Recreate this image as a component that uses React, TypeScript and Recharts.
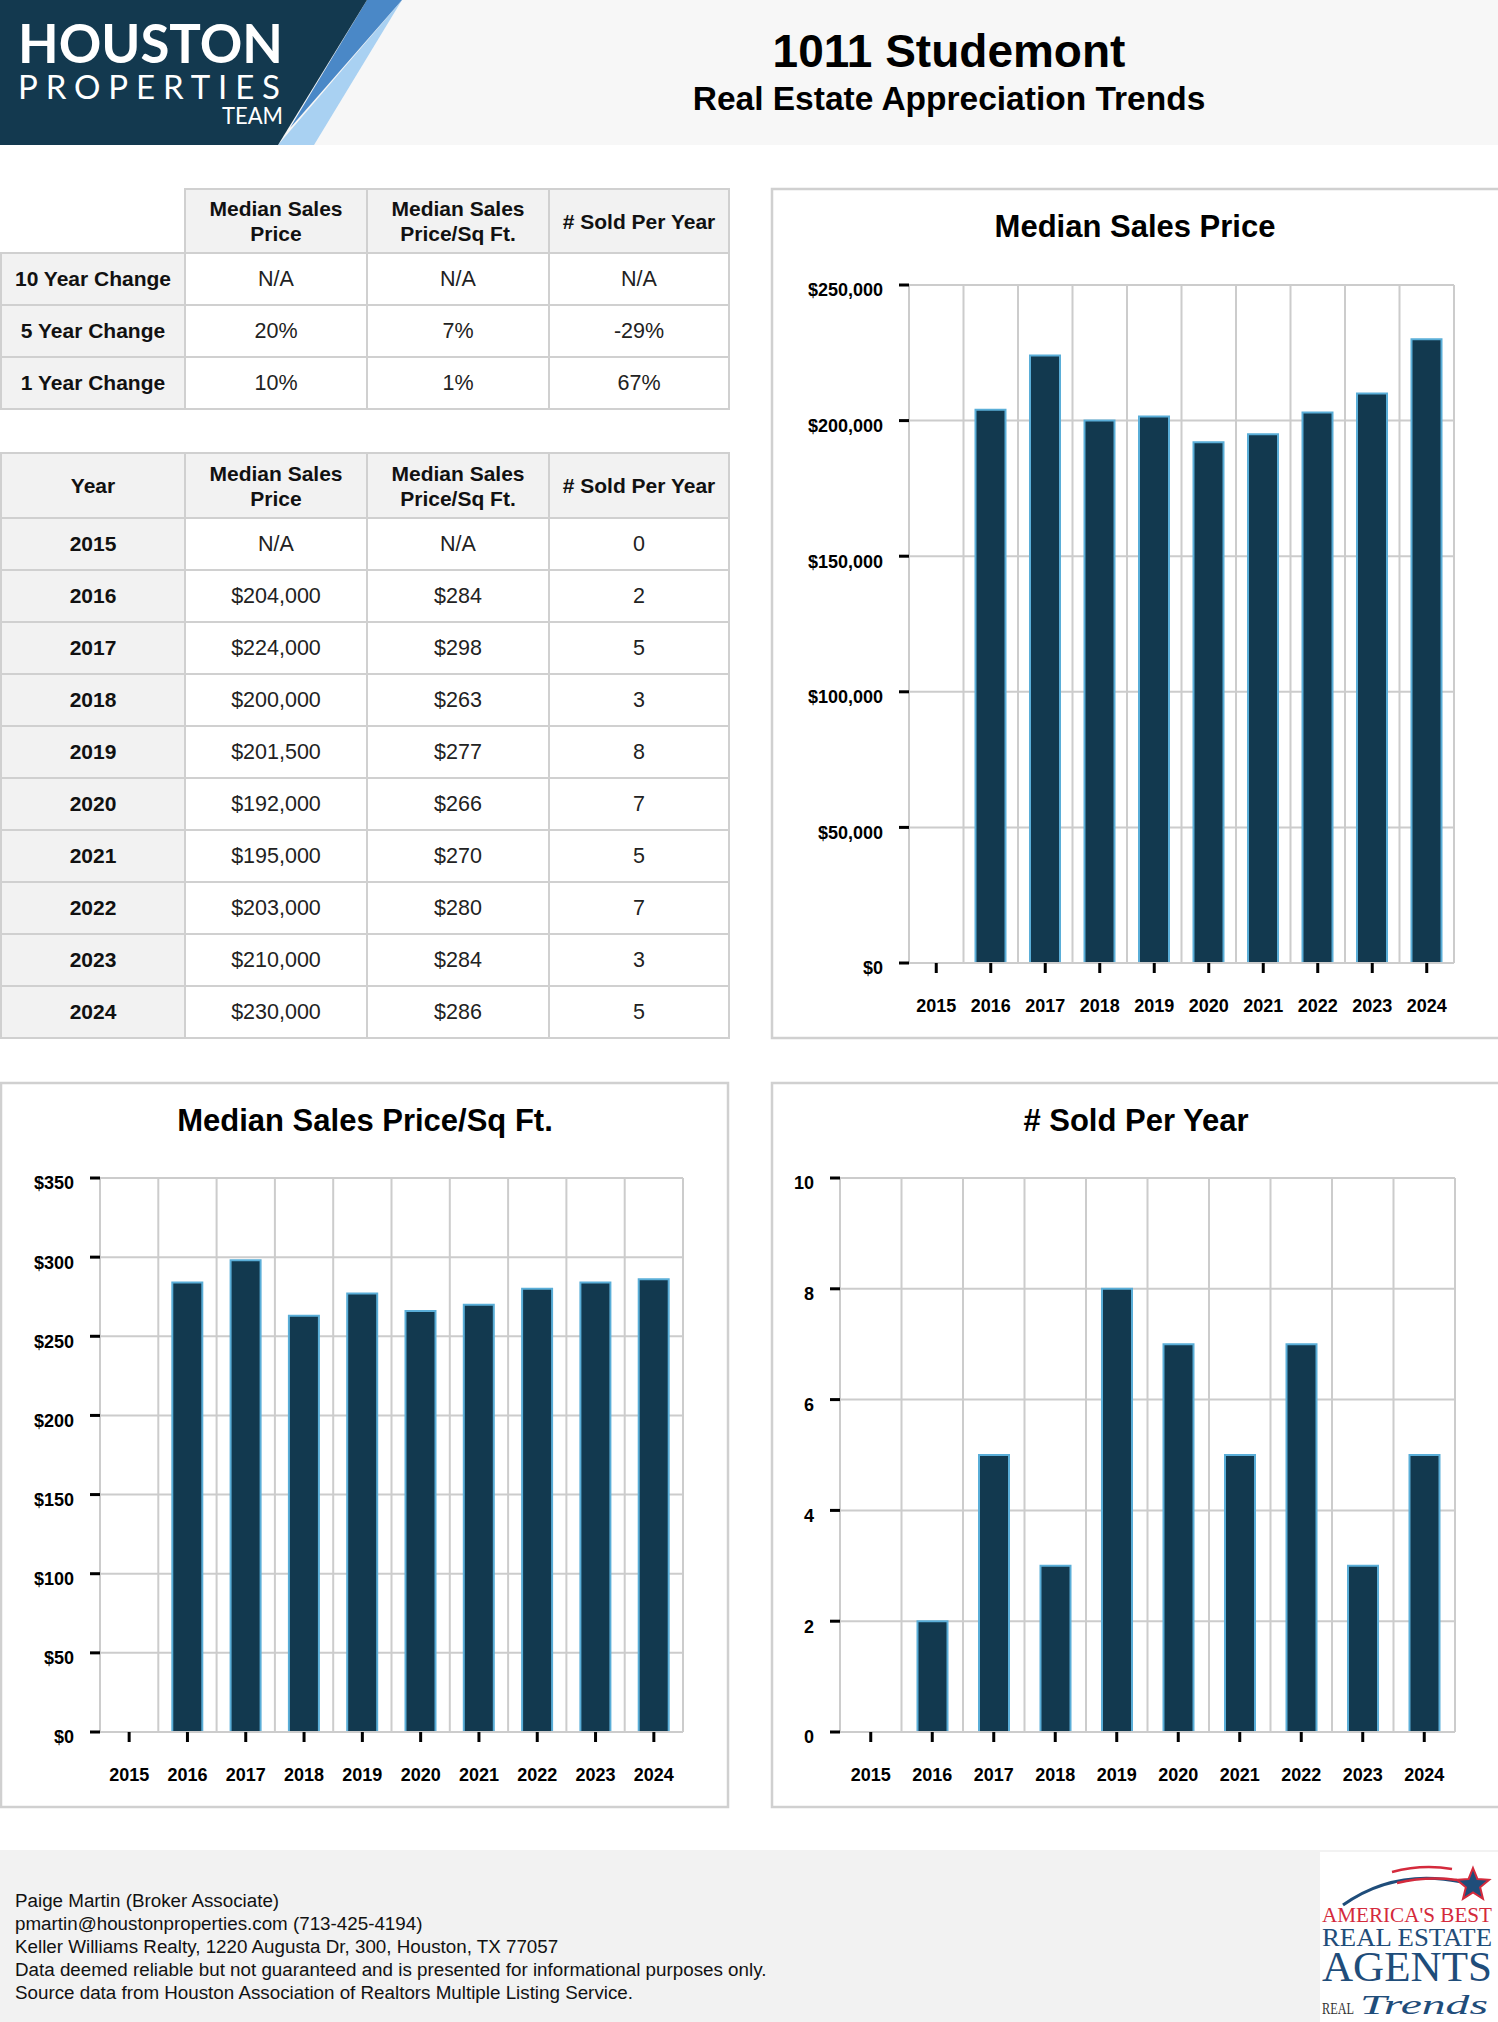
import React from 'react'
import { BarChart, Bar, XAxis, YAxis, CartesianGrid } from 'recharts'

const years = ['2015', '2016', '2017', '2018', '2019', '2020', '2021', '2022', '2023', '2024']
const medianPrice: (number | null)[] = [null, 204000, 224000, 200000, 201500, 192000, 195000, 203000, 210000, 230000]
const pricePerSqFt: (number | null)[] = [null, 284, 298, 263, 277, 266, 270, 280, 284, 286]
const soldPerYear: (number | null)[] = [0, 2, 5, 3, 8, 7, 5, 7, 3, 5]

const priceTicks = [0, 50000, 100000, 150000, 200000, 250000]
const sqFtTicks = [0, 50, 100, 150, 200, 250, 300, 350]
const soldTicks = [0, 2, 4, 6, 8, 10]

const changeLabels = ['10 Year Change', '5 Year Change', '1 Year Change']
const changePrice = ['N/A', '20%', '10%']
const changeSqFt = ['N/A', '7%', '1%']
const changeSold = ['N/A', '-29%', '67%']

const footerLines = [
  'Paige Martin (Broker Associate)',
  'pmartin@houstonproperties.com (713-425-4194)',
  'Keller Williams Realty, 1220 Augusta Dr, 300, Houston, TX 77057',
  'Data deemed reliable but not guaranteed and is presented for informational purposes only.',
  'Source data from Houston Association of Realtors Multiple Listing Service.',
]

const FONT = '"Liberation Sans", Arial, Helvetica, sans-serif'
const SERIF = "'Liberation Serif', 'DejaVu Serif', serif"
const LOGO_FONT = "Lato, 'Open Sans', sans-serif"
const NAVY = '#12394f'
const BAR_EDGE = '#5aaed8'
const GRID = '#cccccc'
const CELL_BG = '#f2f2f2'

const money = (v: number | null) => (v == null ? 'N/A' : '$' + v.toLocaleString('en-US'))
const plain = (v: number | null) => (v == null ? 'N/A' : String(v))

type PanelProps = {
  values: (number | null)[]
  ticks: number[]
  format: (v: number) => string
  x: number
  y: number
  w: number
  h: number
  axisWidth: number
  top: number
  right: number
}

function BarPanel({ values, ticks, format, x, y, w, h, axisWidth, top, right }: PanelProps) {
  const data = years.map((year, i) => ({ year, value: values[i] }))
  const tickFont = { fill: '#000', fontSize: 18, fontWeight: 700, fontFamily: FONT }
  return (
    <div style={{ position: 'absolute', left: x, top: y }}>
      <BarChart width={w} height={h} data={data} margin={{ top, right, bottom: 15, left: 0 }} barSize={30}>
        <CartesianGrid
          stroke={GRID}
          strokeWidth={2}
          verticalCoordinatesGenerator={({ offset }: any) =>
            years.concat('').map((_, i) => offset.left + (i * offset.width) / years.length)
          }
        />
        <XAxis
          dataKey="year"
          interval={0}
          height={60}
          axisLine={{ stroke: GRID, strokeWidth: 2 }}
          tickLine={{ stroke: '#000', strokeWidth: 3 }}
          tickSize={10}
          tickMargin={26}
          tick={tickFont}
        />
        <YAxis
          width={axisWidth}
          domain={[0, ticks[ticks.length - 1]]}
          ticks={ticks}
          interval={0}
          tickFormatter={format}
          axisLine={{ stroke: GRID, strokeWidth: 2 }}
          tickLine={{ stroke: '#000', strokeWidth: 3 }}
          tickSize={10}
          tickMargin={16}
          tick={{ ...tickFont, dy: 5 }}
        />
        <Bar dataKey="value" fill={NAVY} stroke={BAR_EDGE} strokeWidth={2} isAnimationActive={false} />
      </BarChart>
    </div>
  )
}

const cell: React.CSSProperties = {
  border: `2px solid #d0d0d0`,
  textAlign: 'center',
  verticalAlign: 'middle',
  padding: 0,
  fontSize: 21.5,
  color: '#222',
}
const headCell: React.CSSProperties = { ...cell, fontSize: 21, background: CELL_BG, fontWeight: 700, color: '#111', lineHeight: '25px' }
const labelCell: React.CSSProperties = { ...cell, fontSize: 21, background: CELL_BG, fontWeight: 700, color: '#111' }

const colWidths = [184, 182, 182, 180]

function Cols() {
  return (
    <colgroup>
      {colWidths.map((w, i) => (
        <col key={i} style={{ width: w }} />
      ))}
    </colgroup>
  )
}

function HeaderCells() {
  return (
    <>
      <td style={headCell}>Median Sales<br />Price</td>
      <td style={headCell}>Median Sales<br />Price/Sq Ft.</td>
      <td style={headCell}># Sold Per Year</td>
    </>
  )
}

const tableStyle: React.CSSProperties = {
  position: 'absolute',
  left: 0,
  width: 728,
  borderCollapse: 'collapse',
  tableLayout: 'fixed',
  fontFamily: FONT,
}

function ChangeTable() {
  return (
    <table style={{ ...tableStyle, top: 188 }}>
      <Cols />
      <tbody>
        <tr style={{ height: 64 }}>
          <td style={{ ...cell, border: 'none' }}></td>
          <HeaderCells />
        </tr>
        {changeLabels.map((label, i) => (
          <tr key={label} style={{ height: 52 }}>
            <td style={labelCell}>{label}</td>
            <td style={cell}>{changePrice[i]}</td>
            <td style={cell}>{changeSqFt[i]}</td>
            <td style={cell}>{changeSold[i]}</td>
          </tr>
        ))}
      </tbody>
    </table>
  )
}

function YearTable() {
  return (
    <table style={{ ...tableStyle, top: 452 }}>
      <Cols />
      <tbody>
        <tr style={{ height: 65 }}>
          <td style={headCell}>Year</td>
          <HeaderCells />
        </tr>
        {years.map((year, i) => (
          <tr key={year} style={{ height: 52 }}>
            <td style={labelCell}>{year}</td>
            <td style={cell}>{money(medianPrice[i])}</td>
            <td style={cell}>{money(pricePerSqFt[i])}</td>
            <td style={cell}>{plain(soldPerYear[i])}</td>
          </tr>
        ))}
      </tbody>
    </table>
  )
}

function starPoints(cx: number, cy: number, ro: number, ri: number) {
  const pts: string[] = []
  for (let i = 0; i < 10; i++) {
    const r = i % 2 === 0 ? ro : ri
    const a = -Math.PI / 2 + (i * Math.PI) / 5
    pts.push(`${cx + r * Math.cos(a)},${cy + r * Math.sin(a)}`)
  }
  return pts.join(' ')
}

function PageArt() {
  return (
    <svg width={1498} height={2022} style={{ position: 'absolute', left: 0, top: 0 }} fontFamily={FONT}>
      <defs>
        <linearGradient id="rule" x1="0" x2="1" y1="0" y2="0">
          <stop offset="0" stopColor="#ffffff" stopOpacity="0" />
          <stop offset="1" stopColor="#ffffff" stopOpacity="1" />
        </linearGradient>
      </defs>
      {/* header band + logo */}
      <rect x={0} y={0} width={1498} height={145} fill="#f7f7f7" />
      <polygon points="402,0 314,145 278,145" fill="#a9d1f2" />
      <polygon points="367,0 402,0 290,128" fill="#4a88c7" />
      <polygon points="0,0 367,0 278,145 0,145" fill="#13394f" />
      <text x={18} y={63} fontSize={54} fontWeight={700} fill="#fff" fontFamily={LOGO_FONT} textLength={265} lengthAdjust="spacingAndGlyphs">HOUSTON</text>
      <text x={18} y={99} fontSize={33} fontWeight={400} fill="#fff" fontFamily={LOGO_FONT} textLength={262} lengthAdjust="spacing">PROPERTIES</text>
      <line x1={23} y1={118} x2={217} y2={118} stroke="url(#rule)" strokeWidth={2} />
      <text x={222} y={124} fontSize={24} fill="#fff" fontFamily={LOGO_FONT} textLength={61} lengthAdjust="spacingAndGlyphs">TEAM</text>
      <text x={949} y={67} textAnchor="middle" fontSize={46} fontWeight={700} fill="#000">1011 Studemont</text>
      <text x={949} y={110} textAnchor="middle" fontSize={33.5} fontWeight={700} fill="#000">Real Estate Appreciation Trends</text>

      {/* chart panels */}
      <rect x={772} y={189} width={740} height={849} fill="#fff" stroke="#d0d0d0" strokeWidth={2.5} />
      <rect x={1} y={1083} width={727} height={724} fill="#fff" stroke="#d0d0d0" strokeWidth={2.5} />
      <rect x={772} y={1083} width={740} height={724} fill="#fff" stroke="#d0d0d0" strokeWidth={2.5} />
      <text x={1135} y={237} textAnchor="middle" fontSize={31} fontWeight={700} fill="#000">Median Sales Price</text>
      <text x={365} y={1131} textAnchor="middle" fontSize={31} fontWeight={700} fill="#000">Median Sales Price/Sq Ft.</text>
      <text x={1136} y={1131} textAnchor="middle" fontSize={31} fontWeight={700} fill="#000"># Sold Per Year</text>

      {/* footer */}
      <rect x={0} y={1850} width={1498} height={172} fill="#f2f2f2" />
      {footerLines.map((line, i) => (
        <text key={i} x={15} y={1907 + i * 23} fontSize={18.8} fill="#111">{line}</text>
      ))}
      <rect x={1320} y={1852} width={178} height={170} fill="#fff" />
      <path d="M1343,1905 Q1395,1868 1462,1882" stroke="#1f4d7a" strokeWidth={3} fill="none" />
      <path d="M1392,1872 Q1422,1864 1452,1869" stroke="#d42a3c" strokeWidth={2.5} fill="none" />
      <path d="M1397,1883 Q1427,1876 1457,1880" stroke="#d42a3c" strokeWidth={2.5} fill="none" />
      <polygon points={starPoints(1473, 1885, 17, 7.5)} fill="#1f4d7a" stroke="#d42a3c" strokeWidth={2} />
      <text x={1322} y={1922} fontSize={22} fill="#d42a3c" fontFamily={SERIF} textLength={170} lengthAdjust="spacingAndGlyphs">AMERICA'S BEST</text>
      <text x={1322} y={1946} fontSize={25} fill="#1f4d7a" fontFamily={SERIF} textLength={170} lengthAdjust="spacingAndGlyphs">REAL ESTATE</text>
      <text x={1322} y={1981} fontSize={43} fill="#1f4d7a" fontFamily={SERIF} textLength={170} lengthAdjust="spacingAndGlyphs">AGENTS</text>
      <text x={1322} y={2014} fontSize={17} fill="#333" fontFamily={SERIF} textLength={32} lengthAdjust="spacingAndGlyphs">REAL</text>
      <text x={1360} y={2014} fontSize={28} fontStyle="italic" fill="#1f4d7a" fontFamily={SERIF} textLength={128} lengthAdjust="spacingAndGlyphs">Trends</text>
    </svg>
  )
}

export default function App() {
  return (
    <div style={{ position: 'absolute', left: 0, top: 0, width: 1498, height: 2022, background: '#fff', fontFamily: FONT }}>
      <PageArt />
      <ChangeTable />
      <YearTable />
      <BarPanel values={medianPrice} ticks={priceTicks} format={(v) => money(v)} x={772} y={189} w={726} h={849} axisWidth={137} top={96} right={44} />
      <BarPanel values={pricePerSqFt} ticks={sqFtTicks} format={(v) => money(v)} x={0} y={1083} w={728} h={724} axisWidth={100} top={95} right={45} />
      <BarPanel values={soldPerYear} ticks={soldTicks} format={(v) => String(v)} x={772} y={1083} w={726} h={724} axisWidth={68} top={95} right={43} />
    </div>
  )
}
